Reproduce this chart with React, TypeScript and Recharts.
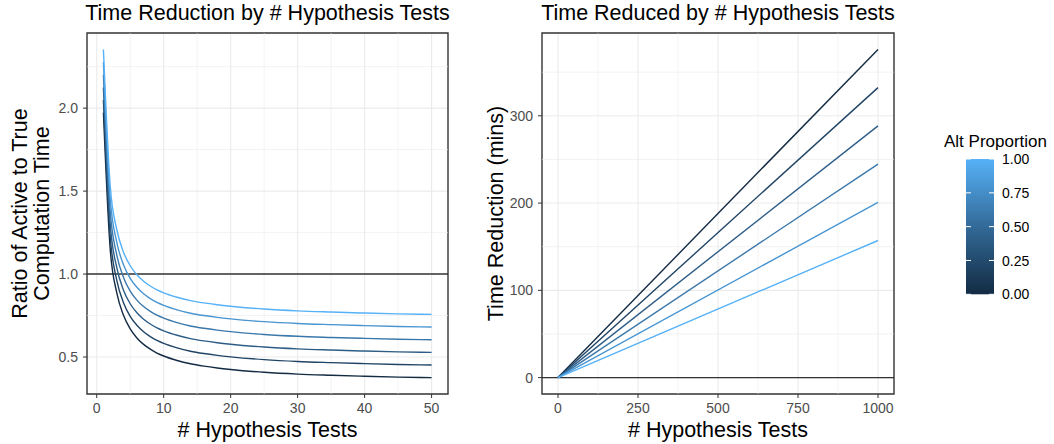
import React from 'react';
import { LineChart, Line, XAxis, YAxis, CartesianGrid, ReferenceLine, ReferenceArea } from 'recharts';

// ---- data ----
const altProportions = [0, 0.2, 0.4, 0.6, 0.8, 1.0];
const seriesColors = ['#132B43', '#204465', '#2D5D87', '#3A78AB', '#4895D1', '#56B1F7'];

// Left panel: number of hypothesis tests
const nTests = [1, 2, 3, 4, 5, 6, 7, 8, 9, 10, 12, 14, 16, 18, 20, 25, 30, 35, 40, 45, 50];
const ratioP00 = [1.973, 1.158, 0.886, 0.751, 0.669, 0.615, 0.576, 0.547, 0.524, 0.506, 0.479, 0.459, 0.445, 0.434, 0.425, 0.408, 0.397, 0.390, 0.384, 0.379, 0.376];
const ratioP02 = [2.049, 1.234, 0.962, 0.827, 0.745, 0.691, 0.652, 0.623, 0.600, 0.582, 0.555, 0.535, 0.521, 0.510, 0.501, 0.484, 0.473, 0.466, 0.460, 0.455, 0.452];
const ratioP04 = [2.125, 1.310, 1.038, 0.903, 0.821, 0.767, 0.728, 0.699, 0.676, 0.658, 0.631, 0.611, 0.597, 0.586, 0.577, 0.560, 0.549, 0.542, 0.536, 0.531, 0.528];
const ratioP06 = [2.201, 1.386, 1.114, 0.979, 0.897, 0.843, 0.804, 0.775, 0.752, 0.734, 0.707, 0.687, 0.673, 0.662, 0.653, 0.636, 0.625, 0.618, 0.612, 0.607, 0.604];
const ratioP08 = [2.278, 1.463, 1.191, 1.056, 0.974, 0.920, 0.881, 0.852, 0.829, 0.811, 0.784, 0.764, 0.750, 0.739, 0.730, 0.713, 0.702, 0.695, 0.689, 0.684, 0.681];
const ratioP10 = [2.354, 1.539, 1.267, 1.132, 1.050, 0.996, 0.957, 0.928, 0.905, 0.887, 0.860, 0.840, 0.826, 0.815, 0.806, 0.789, 0.778, 0.771, 0.765, 0.760, 0.757];
const ratioSeries = [ratioP00, ratioP02, ratioP04, ratioP06, ratioP08, ratioP10];

// Right panel: time reduced (mins)
const nTestsRight = [0, 1000];
const reducedP00 = [0, 376.1];
const reducedP02 = [0, 332.3];
const reducedP04 = [0, 288.5];
const reducedP06 = [0, 244.6];
const reducedP08 = [0, 200.8];
const reducedP10 = [0, 157.1];
const reducedSeries = [reducedP00, reducedP02, reducedP04, reducedP06, reducedP08, reducedP10];

// ticks
const leftXTicks = [0, 10, 20, 30, 40, 50];
const leftXMinor = [5, 15, 25, 35, 45];
const leftYTicks = [0.5, 1.0, 1.5, 2.0];
const leftYMinor = [0.75, 1.25, 1.75, 2.25];
const rightXTicks = [0, 250, 500, 750, 1000];
const rightXMinor = [125, 375, 625, 875];
const rightYTicks = [0, 100, 200, 300];
const rightYMinor = [50, 150, 250, 350];
const legendTicks = [0, 0.25, 0.5, 0.75, 1.0];
const legendTickLabels = ['0.00', '0.25', '0.50', '0.75', '1.00'];

// ---- tables built from arrays ----
const keys = altProportions.map((_, i) => 's' + i);
const leftData = nTests.map((n, j) => {
  const row: any = { n };
  ratioSeries.forEach((s, i) => { row[keys[i]] = s[j]; });
  return row;
});
const rightData = nTestsRight.map((n, j) => {
  const row: any = { n };
  reducedSeries.forEach((s, i) => { row[keys[i]] = s[j]; });
  return row;
});

const FONT = '"Liberation Sans", Arial, Helvetica, sans-serif';
const tickStyle = { fill: '#4D4D4D', fontSize: 14, fontFamily: FONT };
const GRID = '#EBEBEB';

const leftXDomain: [number, number] = [-1.45, 52.45];
const leftYDomain: [number, number] = [0.277, 2.453];
const rightXDomain: [number, number] = [-50, 1050];
const rightYDomain: [number, number] = [-18.8, 394.9];

function minorLines(xs: number[], ys: number[]) {
  return [
    ...xs.map((v) => <ReferenceLine key={'mx' + v} x={v} stroke={GRID} strokeWidth={0.6} />),
    ...ys.map((v) => <ReferenceLine key={'my' + v} y={v} stroke={GRID} strokeWidth={0.6} />),
  ];
}

export default function App() {
  // legend layout
  const barTop = 159;
  const barBottom = 294.3;
  const barLeft = 966;
  const barRight = 994;
  const yOfLegend = (v: number) => barBottom - v * (barBottom - barTop);

  return (
    <div style={{ position: 'absolute', left: 0, top: 0, width: 1054, height: 444, background: '#fff', fontFamily: FONT }}>
      <div style={{ position: 'absolute', left: 0, top: 0 }}>
        <LineChart width={460} height={444} data={leftData} margin={{ top: 33, right: 12, left: 0, bottom: 25 }}>
          <CartesianGrid stroke={GRID} strokeWidth={1.1} horizontalValues={leftYTicks} verticalValues={leftXTicks} />
          {minorLines(leftXMinor, leftYMinor)}
          <XAxis dataKey="n" type="number" domain={leftXDomain} ticks={leftXTicks} allowDataOverflow
            height={25} axisLine={false} tickLine={{ stroke: '#333333' }} tickSize={4} tickMargin={5} tick={tickStyle} />
          <YAxis type="number" domain={leftYDomain} ticks={leftYTicks} allowDataOverflow width={87}
            axisLine={false} tickLine={{ stroke: '#333333' }} tickSize={4} tickMargin={5} tick={tickStyle}
            tickFormatter={(v: number) => v.toFixed(1)} />
          <ReferenceLine y={1} stroke="#333333" strokeWidth={1.4} />
          {keys.map((k, i) => (
            <Line key={k} dataKey={k} type="monotone" stroke={seriesColors[i]} strokeWidth={1.4} dot={false} isAnimationActive={false} />
          ))}
          <ReferenceArea x1={leftXDomain[0]} x2={leftXDomain[1]} y1={leftYDomain[0]} y2={leftYDomain[1]} fill="none" stroke="#333333" strokeWidth={1.4} />
        </LineChart>
      </div>
      <div style={{ position: 'absolute', left: 460, top: 0 }}>
        <LineChart width={440} height={444} data={rightData} margin={{ top: 33, right: 6, left: 0, bottom: 25 }}>
          <CartesianGrid stroke={GRID} strokeWidth={1.1} horizontalValues={rightYTicks} verticalValues={rightXTicks} />
          {minorLines(rightXMinor, rightYMinor)}
          <XAxis dataKey="n" type="number" domain={rightXDomain} ticks={rightXTicks} allowDataOverflow
            height={25} axisLine={false} tickLine={{ stroke: '#333333' }} tickSize={4} tickMargin={5} tick={tickStyle} />
          <YAxis type="number" domain={rightYDomain} ticks={rightYTicks} allowDataOverflow width={82}
            axisLine={false} tickLine={{ stroke: '#333333' }} tickSize={4} tickMargin={5} tick={tickStyle} />
          <ReferenceLine y={0} stroke="#333333" strokeWidth={1.4} />
          {keys.map((k, i) => (
            <Line key={k} dataKey={k} type="linear" stroke={seriesColors[i]} strokeWidth={1.4} dot={false} isAnimationActive={false} />
          ))}
          <ReferenceArea x1={rightXDomain[0]} x2={rightXDomain[1]} y1={rightYDomain[0]} y2={rightYDomain[1]} fill="none" stroke="#333333" strokeWidth={1.4} />
        </LineChart>
      </div>
      <svg width={1054} height={444} style={{ position: 'absolute', left: 0, top: 0, pointerEvents: 'none' }}>
        <defs>
          <linearGradient id="altGrad" x1="0" y1="0" x2="0" y2="1">
            <stop offset="0%" stopColor="#56B1F7" />
            <stop offset="50%" stopColor="#336A98" />
            <stop offset="100%" stopColor="#132B43" />
          </linearGradient>
        </defs>
        <g fontFamily={FONT} fill="#000">
          <text x={267.5} y={20} fontSize={21.5} textAnchor="middle">Time Reduction by # Hypothesis Tests</text>
          <text x={718} y={20} fontSize={21.5} textAnchor="middle">Time Reduced by # Hypothesis Tests</text>
          <text x={267.5} y={437} fontSize={21.5} textAnchor="middle"># Hypothesis Tests</text>
          <text x={718} y={437} fontSize={21.5} textAnchor="middle"># Hypothesis Tests</text>
          <text transform="translate(27,213.5) rotate(-90)" fontSize={21.5} textAnchor="middle">Ratio of Active to True</text>
          <text transform="translate(49,213.5) rotate(-90)" fontSize={21.5} textAnchor="middle">Computation Time</text>
          <text transform="translate(503,213.5) rotate(-90)" fontSize={21.5} textAnchor="middle">Time Reduction (mins)</text>
          <text x={944} y={146.5} fontSize={17}>Alt Proportion</text>
        </g>
        <rect x={barLeft} y={barTop} width={barRight - barLeft} height={barBottom - barTop} fill="url(#altGrad)" />
        {legendTicks.map((v, i) => (
          <g key={v}>
            <line x1={barLeft} x2={barLeft + 5} y1={yOfLegend(v)} y2={yOfLegend(v)} stroke="#fff" strokeWidth={1} />
            <line x1={barRight - 5} x2={barRight} y1={yOfLegend(v)} y2={yOfLegend(v)} stroke="#fff" strokeWidth={1} />
            <text x={1002} y={yOfLegend(v)} dy="0.36em" fontSize={14} fontFamily={FONT} fill="#000">{legendTickLabels[i]}</text>
          </g>
        ))}
      </svg>
    </div>
  );
}
